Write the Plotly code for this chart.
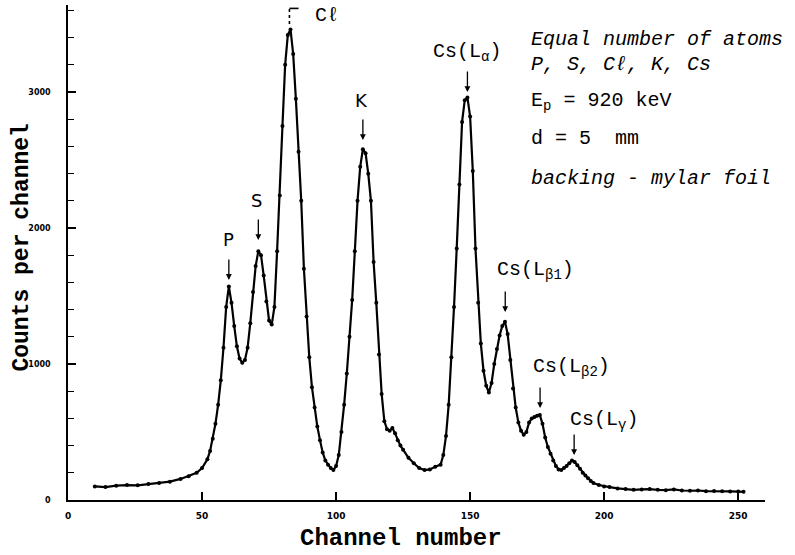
import plotly.graph_objects as go

# Spectrum data (channel number, counts per channel)
channels = [10, 14, 18, 22, 26, 30, 34, 38, 42, 45, 48, 50, 52, 53, 54, 55, 56, 57, 58, 59,
            60, 61, 62, 63, 64, 65, 66, 67, 68, 69, 70, 71, 72, 73, 74, 75, 76, 77, 78, 79,
            80, 81, 82, 83, 84, 85, 86, 87, 88, 89, 90, 91, 92, 93, 94, 95, 96, 97, 98, 99,
            100, 101, 102, 103, 104, 105, 106, 107, 108, 109, 110, 111, 112, 113, 114, 115,
            116, 117, 118, 119, 120, 121, 122, 123, 124, 125, 127, 129, 131, 133, 135, 137,
            139, 140, 141, 142, 143, 144, 145, 146, 147, 148, 149, 150, 151, 152, 153, 154,
            155, 156, 157, 158, 159, 160, 161, 162, 163, 164, 165, 166, 167, 168, 169, 170,
            171, 172, 173, 174, 175, 176, 177, 178, 179, 180, 181, 182, 183, 184, 185, 186,
            187, 188, 189, 190, 191, 192, 193, 194, 195, 196, 198, 200, 202, 205, 208, 211,
            214, 217, 220, 223, 226, 229, 232, 235, 238, 241, 244, 247, 250, 252]
counts = [100, 95, 105, 110, 108, 118, 125, 135, 155, 175, 200, 235, 300, 360, 450, 560, 700, 880, 1120, 1420,
          1570, 1450, 1280, 1130, 1040, 1010, 1030, 1120, 1300, 1530, 1720, 1830, 1800, 1650, 1460, 1320, 1290, 1420, 1830, 2240,
          2750, 3200, 3420, 3460, 3280, 2950, 2560, 2200, 1700, 1350, 1050, 830, 680, 540, 440, 350, 290, 260, 235, 220,
          250, 330, 500, 700, 930, 1200, 1470, 1830, 2200, 2450, 2580, 2550, 2400, 2200, 1750, 1450,
          1070, 780, 580, 520, 510, 530, 490, 440, 400, 370, 310, 270, 235, 220, 225, 245,
          260, 330, 470, 700, 1050, 1420, 1850, 2320, 2780, 2940, 2960, 2820, 2420, 1850, 1450, 1150,
          950, 840, 790, 860, 1000, 1110, 1210, 1280, 1310, 1220, 1030, 820, 680, 570, 510, 480,
          500, 570, 600, 610, 620, 625, 560, 460, 390, 340, 290, 250, 225, 220, 235, 250,
          270, 290, 280, 255, 230, 200, 180, 160, 140, 125, 110, 100, 95, 85, 80, 75,
          78, 80, 75, 72, 78, 70, 68, 70, 65, 66, 64, 63, 62, 60]

# Peak labels: text position (channel, counts) and arrow tip (channel, counts)
label_texts = ["P", "S", "Cℓ", "K", "Cs(L<sub>α</sub>)", "Cs(L<sub>β1</sub>)",
               "Cs(L<sub>β2</sub>)", "Cs(L<sub>γ</sub>)"]
label_ch = [60, 70.5, 96.6, 109.3, 149, 174.3, 188, 200]
label_ct = [1912, 2206, 3566, 2941, 3294, 1691, 971, 588]
arrow_ch = [60, 71, None, 110, 149, 163.1, 176.1, 188.8]
arrow_ct = [1618, 1912, None, 2647, 3000, 1382, 676, 331]

x_ticks = [0, 50, 100, 150, 200, 250]
y_ticks = [0, 1000, 2000, 3000]

x_title = "Channel number"
y_title = "Counts per channel"

info_lines = ["<i>Equal number of atoms</i>", "<i>P, S, Cℓ, K, Cs</i>",
              "E<sub>p</sub> = 920 keV", "d = 5  mm", "<i>backing - mylar foil</i>"]
info_y = [0.930, 0.879, 0.806, 0.731, 0.650]

MONO = "Liberation Mono"

fig = go.Figure()
fig.add_trace(go.Scatter(
    x=channels, y=counts, mode="lines+markers",
    line=dict(color="black", width=2.2),
    marker=dict(color="black", size=4),
    showlegend=False, hoverinfo="skip"))

ann = []
for t, xc, yc in zip(label_texts, label_ch, label_ct):
    fam = "DejaVu Sans" if t in ("P", "S", "K") else MONO
    sz = 18 if t in ("P", "S", "K") else 20
    ann.append(dict(x=xc, y=yc, xref="x", yref="y", text=t, showarrow=False,
                    font=dict(family=fam, size=sz, color="black")))
for xc, yc in zip(arrow_ch, arrow_ct):
    if xc is None:
        continue
    ann.append(dict(x=xc, y=yc, xref="x", yref="y", text="", showarrow=True,
                    ax=0, ay=-22, arrowhead=2, arrowsize=0.9, arrowwidth=1.3,
                    arrowcolor="black", standoff=0))
for t, yy in zip(info_lines, info_y):
    ann.append(dict(x=0.661, y=yy, xref="paper", yref="paper", text=t,
                    showarrow=False, xanchor="left", yanchor="middle",
                    font=dict(family=MONO, size=20, color="black")))

# axis titles
ann.append(dict(x=0.478, y=-0.077, xref="paper", yref="paper", text=x_title,
                showarrow=False, xanchor="center", yanchor="middle",
                font=dict(family=MONO, size=24, color="black", weight="bold")))
ann.append(dict(x=-0.066, y=0.51, xref="paper", yref="paper", text=y_title,
                showarrow=False, xanchor="center", yanchor="middle", textangle=-90,
                font=dict(family=MONO, size=23, color="black", weight="bold")))

fig.update_layout(annotations=ann)

# Cl peak bracket marker
fig.add_shape(type="line", xref="x", yref="y", x0=82.6, x1=82.6, y0=3500, y1=3615,
              line=dict(color="black", width=1.6, dash="dot"))
fig.add_shape(type="line", xref="x", yref="y", x0=82.6, x1=86.0, y0=3615, y1=3615,
              line=dict(color="black", width=1.6))

fig.update_layout(
    width=795, height=555,
    margin=dict(l=68, r=30, t=5, b=55),
    plot_bgcolor="white", paper_bgcolor="white",
    xaxis=dict(range=[0, 260], tickvals=x_ticks, ticktext=[str(v) for v in x_ticks],
               ticks="inside", ticklen=8, tickwidth=1.5, tickcolor="black",
               showline=True, linecolor="black", linewidth=1.6, showgrid=False,
               zeroline=False, ticklabelstandoff=6, automargin=False,
               tickfont=dict(family="DejaVu Sans", size=9, color="black", weight="bold")),
    yaxis=dict(range=[0, 3640], tickvals=y_ticks, ticktext=[str(v) for v in y_ticks],
               ticks="inside", ticklen=8, tickwidth=1.5, tickcolor="black",
               minor=dict(dtick=200, ticks="inside", ticklen=6, tickcolor="black", tickwidth=1.3),
               showline=True, linecolor="black", linewidth=1.6, showgrid=False,
               zeroline=False, ticklabelstandoff=14, automargin=False,
               tickfont=dict(family="DejaVu Sans", size=8, color="black", weight="bold")),
)

fig.write_html("out.html", config={"displayModeBar": False},
               post_script="document.body.style.margin='0';")
